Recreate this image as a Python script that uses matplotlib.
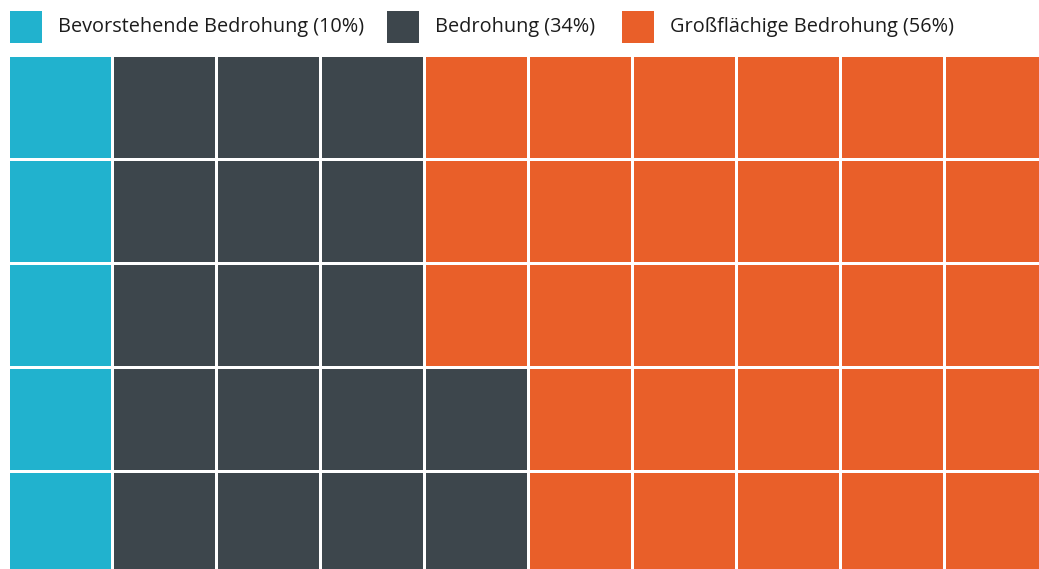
import matplotlib.pyplot as plt
from matplotlib.patches import Rectangle

labels = ["Bevorstehende Bedrohung (10%)", "Bedrohung (34%)", "Großflächige Bedrohung (56%)"]
counts = [5, 17, 28]
colors = ["#21B2CE", "#3D464C", "#E95F29"]
n_rows = 5
n_cols = 10

W, H = 1039, 569
fig = plt.figure(figsize=(W / 100, H / 100), dpi=100)
plt.rcParams['font.family'] = ['Open Sans', 'DejaVu Sans']

# waffle grid: pitch 104 px, starting at (10, 57)
pitch = 104
ax = fig.add_axes([10 / W, 1 - (57 + n_rows * pitch) / H, n_cols * pitch / W, n_rows * pitch / H])
ax.set_xlim(0, n_cols)
ax.set_ylim(n_rows, 0)
ax.axis("off")

# fill column by column, bottom to top
cell_colors = []
for c, n in zip(colors, counts):
    cell_colors += [c] * n
size = 101 / pitch
k = 0
for col in range(n_cols):
    for row in range(n_rows - 1, -1, -1):
        ax.add_patch(Rectangle((col, row), size, size, facecolor=cell_colors[k],
                               edgecolor="none", clip_on=False))
        k += 1

# legend
lax = fig.add_axes([0, 0, 1, 1])
lax.set_xlim(0, W)
lax.set_ylim(H, 0)
lax.axis("off")
box_x = [10, 387, 622]
for x, c, lab in zip(box_x, colors, labels):
    lax.add_patch(Rectangle((x, 11), 32, 32, facecolor=c, edgecolor="none"))
    lax.text(x + 48, 27, lab, fontsize=14.3, color="#1c1c1c", va="center", ha="left")

fig.savefig("out.png", dpi=100)
